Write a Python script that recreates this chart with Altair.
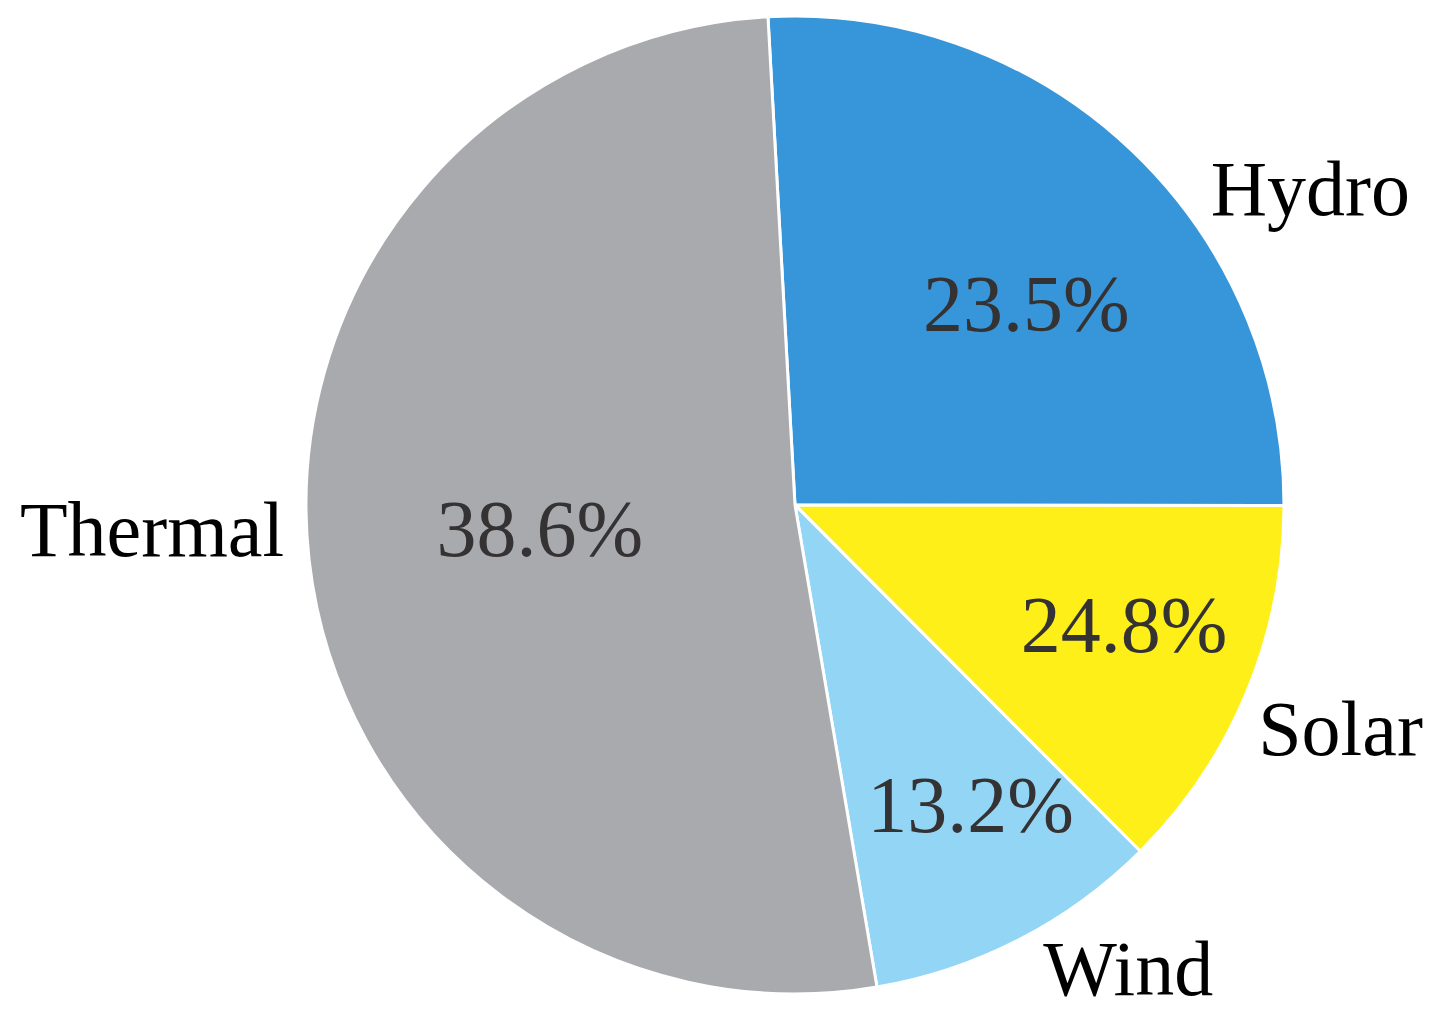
import math
import altair as alt
import pandas as pd

# Slice sizes (% of the full circle), clockwise from the top
categories = ["Hydro", "Solar", "Wind", "Thermal"]
shares = [25.9, 12.5, 9.8, 51.8]
# Percentage labels printed inside the slices
pct_labels = ["23.5%", "24.8%", "13.2%", "38.6%"]
colors = ["#3796DA", "#FDEF17", "#93D5F4", "#A9AAAD"]

df = pd.DataFrame({
    "category": categories,
    "share": shares,
    "pct": pct_labels,
    "idx": list(range(len(categories))),
})

# layout / style
CX, CY = 787, 497          # pie centre inside the view
R = 489                    # pie radius
R_IN, R_OUT = 300, 489     # label anchor radii
START = -3.17 * math.pi / 180
FONT = "Liberation Serif"
inner_nudge = {"Hydro": (25, 44), "Solar": (52, 32), "Wind": (38, 60), "Thermal": (43, 18)}
outer_nudge = {"Hydro": (179, 65), "Solar": (94, 62), "Wind": (109, 55), "Thermal": (-157, -4)}

theta_scale = alt.Scale(domain=[0, sum(shares)],
                        range=[2 * math.pi + START, 4 * math.pi + START])

base = alt.Chart(df)

pie = base.mark_arc(stroke="white", strokeWidth=3, radius=R).encode(
    theta=alt.Theta("share:Q", stack=True, scale=theta_scale),
    color=alt.Color("category:N", scale=alt.Scale(domain=categories, range=colors), legend=None),
    order=alt.Order("idx:Q"),
    x=alt.value(CX),
    y=alt.value(CY),
)

stacked = base.transform_stack(
    stack="share", groupby=[], as_=["s0", "s1"], sort=[alt.SortField("idx")]
).transform_calculate(mid="(datum.s0 + datum.s1) / 2")

layers = [pie]
for cat in categories:
    dx, dy = inner_nudge[cat]
    layers.append(
        stacked.transform_filter(alt.datum.category == cat).mark_text(
            font=FONT, fontSize=80, color="#353233", align="center",
            baseline="alphabetic", radius=R_IN, dx=dx, dy=dy,
        ).encode(
            theta=alt.Theta("mid:Q", scale=theta_scale, stack=None),
            text="pct:N",
            x=alt.value(CX), y=alt.value(CY),
        )
    )
    dx, dy = outer_nudge[cat]
    layers.append(
        stacked.transform_filter(alt.datum.category == cat).mark_text(
            font=FONT, fontSize=78, color="#000000", align="center",
            baseline="alphabetic", radius=R_OUT, dx=dx, dy=dy,
        ).encode(
            theta=alt.Theta("mid:Q", scale=theta_scale, stack=None),
            text="category:N",
            x=alt.value(CX), y=alt.value(CY),
        )
    )

chart = alt.layer(*layers).properties(
    width=1416, height=1006, padding=0, autosize="none",
    background="white",
).configure_view(stroke=None)

chart.save("out.html", embed_options={"renderer": "svg", "actions": False})
